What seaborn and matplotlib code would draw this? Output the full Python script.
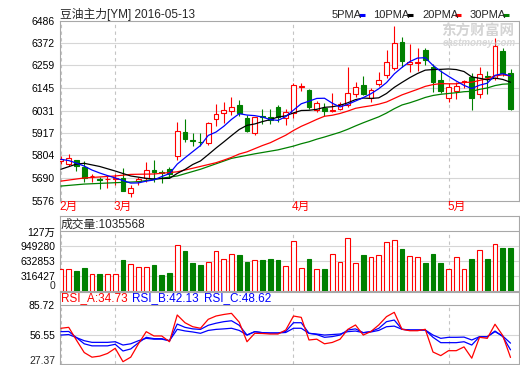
import matplotlib
matplotlib.use("Agg")
import matplotlib.pyplot as plt
from matplotlib.lines import Line2D
import numpy as np
import pandas as pd
import seaborn as sns

# ---------------- data ----------------
opens  = [5775, 5760, 5779, 5747, 5698, 5683, 5683, 5686, 5688, 5615,
          5676, 5688, 5730, 5718, 5736, 5801, 5924, 5882, 5874, 5865,
          5986, 6017, 6030, 6059, 5991, 5916, 6002, 5998, 6047, 5991,
          6017, 6152, 6135, 6033, 6045, 6031, 6039, 6059, 6113, 6160,
          6096, 6163, 6210, 6247, 6376, 6265, 6271, 6337, 6252, 6185,
          6093, 6130, 6175, 6202, 6113, 6204, 6197, 6332, 6219]
highs  = [5800, 5811, 5782, 5776, 5710, 5693, 5705, 5710, 5739, 5654,
          5696, 5772, 5781, 5730, 5747, 5974, 5986, 5916, 5916, 5974,
          6064, 6075, 6101, 6084, 6008, 6000, 6037, 6037, 6057, 6040,
          6168, 6168, 6140, 6079, 6067, 6118, 6075, 6252, 6177, 6205,
          6146, 6227, 6337, 6458, 6404, 6366, 6345, 6345, 6264, 6236,
          6168, 6177, 6185, 6219, 6252, 6231, 6399, 6348, 6241]
lows   = [5760, 5750, 5725, 5671, 5668, 5633, 5638, 5654, 5622, 5592,
          5654, 5671, 5671, 5663, 5688, 5781, 5873, 5852, 5852, 5857,
          5954, 5966, 6008, 6003, 5924, 5907, 5963, 5963, 5974, 5960,
          5991, 6130, 6040, 6025, 6005, 6025, 6033, 6050, 6101, 6109,
          6072, 6156, 6194, 6236, 6252, 6227, 6231, 6261, 6123, 6118,
          6075, 6089, 6143, 6033, 6096, 6113, 6185, 6207, 6033]
closes = [5785, 5789, 5750, 5691, 5702, 5679, 5687, 5690, 5626, 5638,
          5684, 5730, 5720, 5714, 5710, 5927, 5887, 5876, 5870, 5966,
          6012, 6033, 6047, 6017, 5929, 5997, 5998, 5985, 5997, 6025,
          6160, 6157, 6050, 6067, 6030, 6035, 6062, 6118, 6151, 6114,
          6135, 6185, 6275, 6371, 6281, 6278, 6275, 6286, 6177, 6130,
          6151, 6155, 6179, 6096, 6214, 6200, 6357, 6219, 6039]
volumes = [464000, 464000, 421000, 485000, 357000, 357000, 357000, 357000, 656000, 571000,
           500000, 500000, 549000, 336000, 385000, 977000, 849000, 599000, 549000, 614000,
           849000, 671000, 785000, 763000, 620000, 650000, 656000, 678000, 656000, 528000,
           1063000, 479000, 678000, 464000, 464000, 785000, 620000, 1120000, 599000, 763000,
           714000, 763000, 1035000, 1084000, 892000, 742000, 714000, 599000, 785000, 599000,
           457000, 714000, 457000, 671000, 870000, 671000, 998000, 906000, 906000]

ma5_x  = list(range(59))
ma5_y  = [5784, 5778, 5765, 5750, 5730, 5715, 5702, 5690, 5677, 5664,
          5665, 5674, 5680, 5697, 5712, 5760, 5792, 5823, 5854, 5905,
          5922, 5951, 5986, 6015, 6008, 6005, 5998, 5985, 5981, 6000,
          6033, 6065, 6078, 6092, 6093, 6068, 6049, 6062, 6079, 6096,
          6116, 6141, 6172, 6216, 6249, 6278, 6296, 6298, 6259, 6229,
          6204, 6180, 6158, 6142, 6159, 6169, 6209, 6217, 6206]
ma10_x = [0, 2, 3, 5, 7, 9] + list(range(10, 59))
ma10_y = [5734, 5760, 5764, 5748, 5725, 5700,
          5694, 5688, 5685, 5687, 5688, 5713, 5733, 5758, 5776, 5808,
          5841, 5872, 5904, 5935, 5956, 5963, 5975, 5985, 5998, 6004,
          6019, 6031, 6032, 6037, 6047, 6050, 6057, 6070, 6086, 6094,
          6092, 6095, 6117, 6148, 6173, 6197, 6218, 6235, 6238, 6239,
          6241, 6238, 6228, 6201, 6194, 6186, 6195, 6188, 6174]
ma20_x = [0, 3, 7, 9, 12, 15, 17] + list(range(20, 59))
ma20_y = [5674, 5690, 5700, 5708, 5710, 5721, 5739,
          5767, 5780, 5794, 5811, 5822, 5838, 5854, 5868, 5887, 5906,
          5930, 5951, 5968, 5986, 6002, 6007, 6016, 6028, 6042, 6049,
          6055, 6063, 6074, 6092, 6110, 6124, 6138, 6153, 6162, 6167,
          6166, 6166, 6173, 6174, 6183, 6192, 6206, 6211, 6206]
ma30_x = [0, 3, 7, 10, 12, 15, 18, 22, 25, 28] + list(range(30, 59))
ma30_y = [5649, 5659, 5666, 5671, 5683, 5700, 5734, 5789, 5812, 5832,
          5851, 5863, 5873, 5886, 5897, 5909, 5921, 5936, 5953, 5969,
          5984, 5999, 6018, 6040, 6059, 6070, 6083, 6097, 6107, 6113,
          6117, 6121, 6126, 6128, 6138, 6145, 6157, 6164, 6166]

rsi_a = [63.1, 64.0, 51.5, 39.5, 35.0, 36.0, 38.6, 43.6, 30.6, 35.0,
         48.0, 59.8, 55.6, 55.6, 50.0, 76.0, 68.5, 64.6, 63.1, 71.8,
         75.0, 76.5, 77.6, 69.0, 50.0, 58.2, 58.0, 57.5, 57.5, 61.4,
         75.0, 73.7, 51.7, 52.5, 48.0, 49.3, 52.4, 62.0, 66.3, 56.5,
         60.0, 66.3, 74.4, 78.6, 62.1, 60.7, 60.7, 62.1, 40.0, 36.5,
         41.3, 41.3, 45.0, 34.0, 54.3, 53.3, 67.0, 56.0, 34.73]
rsi_b = [59.8, 60.0, 54.0, 48.0, 46.0, 46.0, 46.0, 47.5, 41.0, 43.0,
         49.0, 54.3, 53.0, 53.0, 51.0, 67.2, 64.0, 62.5, 62.0, 66.0,
         68.0, 69.5, 70.4, 66.0, 56.5, 59.8, 58.8, 58.5, 58.5, 60.0,
         68.5, 68.5, 58.2, 57.0, 54.3, 55.0, 56.5, 61.4, 62.5, 58.8,
         60.0, 63.0, 69.5, 71.1, 62.1, 61.4, 61.4, 61.4, 54.3, 49.1,
         49.1, 49.1, 50.0, 46.8, 54.9, 54.9, 60.4, 55.0, 42.13]
rsi_c = [56.5, 57.0, 54.0, 51.0, 49.4, 49.4, 49.4, 50.0, 46.8, 48.0,
         51.0, 53.3, 52.5, 52.5, 51.0, 62.1, 60.5, 59.5, 58.2, 61.0,
         62.0, 62.5, 63.1, 61.0, 56.5, 59.8, 58.8, 58.5, 58.5, 59.0,
         63.1, 63.1, 58.2, 57.5, 56.5, 57.0, 57.5, 59.8, 60.4, 58.8,
         59.5, 61.0, 64.6, 65.2, 62.1, 61.4, 61.4, 61.4, 56.5, 53.3,
         54.3, 54.3, 54.5, 51.7, 54.9, 54.9, 59.8, 55.5, 48.62]

price_ticks = [5576, 5690, 5804, 5917, 6031, 6145, 6259, 6372, 6486]
vol_ticks = [316427, 632853, 949280, 1265707]
vol_tick_labels = ["316427", "632853", "949280", "127万"]
rsi_ticks = [56.55, 85.72]
month_idx = [0, 7, 30, 50]
month_labels = ["2月", "3月", "4月", "5月"]
title = "豆油主力[YM] 2016-05-13"
vol_title = "成交量:1035568"
rsi_titles = ["RSI_A:34.73", "RSI_B:42.13", "RSI_C:48.62"]
legend_names = ["5PMA", "10PMA", "20PMA", "30PMA"]

# ---------------- style ----------------
sns.set_style("white")
plt.rcParams['font.family'] = ['Liberation Sans', 'Noto Sans CJK SC', 'DejaVu Sans']

RED, GREEN, BLUE, BLACK = "#ff0000", "#008000", "#0000ff", "#000000"
SPINE, GRID, DASH = "#a8a8a8", "#d6d6d6", "#c4c4c4"
W, H = 520, 365
fig = plt.figure(figsize=(5.2, 3.65), dpi=100)
fig.patch.set_facecolor("white")


def rect(l, t, r, b):
    return [l / W, 1 - b / H, (r - l) / W, (b - t) / H]


def px(x, y):
    return x / W, 1 - y / H


ax = fig.add_axes(rect(59.5, 20.5, 518.5, 200.5))
axv = fig.add_axes(rect(59.5, 215.7, 518.5, 290.7))
axr = fig.add_axes(rect(59.5, 291.7, 518.5, 363.5))

idx = np.arange(len(closes))
o, h, l, c = map(np.array, (opens, highs, lows, closes))
up = c >= o
XL = (-0.19, 59.03)

for a in (ax, axv, axr):
    a.set_xlim(*XL)
    a.set_xticks([])
    for s in a.spines.values():
        s.set_color(SPINE)
        s.set_linewidth(0.8)
    a.tick_params(axis='y', length=0, pad=3.2, labelsize=7.5, colors="black")
    a.set_facecolor("white")

# ---- main price panel ----
ax.set_ylim(5576, 6486)
ax.set_yticks(price_ticks)
ax.set_yticklabels([str(t) for t in price_ticks])
for t in price_ticks[1:-1]:
    ax.axhline(t, color=GRID, lw=0.8, zorder=0)
for m in month_idx:
    ax.axvline(m, color=DASH, lw=0.8, ls=(0, (3, 3)), zorder=0)

# watermark
fig.text(*px(441, 32), "东方财富网", fontsize=10.5, color="#d4d4d4",
         fontweight="bold", va="center", ha="left", zorder=1)
fig.text(*px(443, 43), "eastmoney.com", fontsize=7, color="#d8d8d8",
         style="italic", fontweight="bold", va="center", ha="left", zorder=1)

wick_col = np.where(up, RED, GREEN)
ax.vlines(idx, l, h, colors=wick_col, lw=0.8, zorder=2)
body_bottom = np.minimum(o, c)
body_h = np.maximum(np.abs(c - o), 1.5)
ax.bar(idx, body_h, bottom=body_bottom, width=0.62,
       color=np.where(up, "white", GREEN), edgecolor=wick_col,
       linewidth=0.8, zorder=3)

for xs, ys, col in ((ma30_x, ma30_y, GREEN), (ma20_x, ma20_y, RED),
                    (ma10_x, ma10_y, BLACK), (ma5_x, ma5_y, BLUE)):
    sns.lineplot(x=xs, y=ys, ax=ax, color=col, lw=0.9, estimator=None,
                 sort=False, legend=False, zorder=4)
ax.set_xlabel("")
ax.set_ylabel("")
ax.set_xlim(*XL)
ax.set_ylim(5576, 6486)

# title + legend
fig.text(*px(60.5, 14), title, fontsize=8.5, va="center", ha="left")
leg_text_x = [331.5, 373, 422, 470]
leg_line_x = [359, 407, 455, 503]
for name, tx, lx, col in zip(legend_names, leg_text_x, leg_line_x,
                             [BLUE, BLACK, RED, GREEN]):
    fig.text(*px(tx, 14.5), name, fontsize=8, va="center", ha="left")
    fig.add_artist(Line2D([lx / W, (lx + 6) / W], [1 - 14.5 / H] * 2,
                          color=col, lw=2.2, solid_capstyle="butt"))

# month labels
for m, lab in zip(month_idx, month_labels):
    fig.text(*px(59.5 + m * 7.75, 207), lab, fontsize=8.5, color=RED,
             va="center", ha="left")

# ---- volume panel ----
vtop = 1603500
axv.set_ylim(0, vtop)
axv.set_yticks(vol_ticks)
axv.set_yticklabels(vol_tick_labels)
for t in vol_ticks[:-1]:
    axv.axhline(t, color=GRID, lw=0.8, zorder=0)
axv.axhline(vol_ticks[-1], color=SPINE, lw=0.8, zorder=0)
axv.vlines(month_idx, 0, vol_ticks[-1], colors=DASH, lw=0.8,
           linestyles=(0, (3, 3)), zorder=0)
axv.bar(idx, volumes, width=0.62, color=np.where(up, "white", GREEN),
        edgecolor=wick_col, linewidth=0.8, zorder=3)
fig.text(*px(55.5, 291), "0", fontsize=7.5, va="bottom", ha="right")
fig.text(*px(60.5, 224.5), vol_title, fontsize=8.5, va="center", ha="left")

# ---- RSI panel ----
axr.set_ylim(28.84, 98.65)
axr.set_yticks(rsi_ticks)
axr.set_yticklabels(["56.55", "85.72"])
axr.axhline(56.55, color=GRID, lw=0.8, zorder=0)
axr.axhline(85.72, color=SPINE, lw=0.8, zorder=0)
axr.vlines(month_idx, 28.84, 85.72, colors=DASH, lw=0.8,
           linestyles=(0, (3, 3)), zorder=0)
for ys, col in ((rsi_c, BLUE), (rsi_b, BLUE), (rsi_a, RED)):
    sns.lineplot(x=idx, y=ys, ax=axr, color=col, lw=0.9, estimator=None,
                 sort=False, legend=False, zorder=3)
axr.set_xlabel("")
axr.set_ylabel("")
axr.set_xlim(*XL)
axr.set_ylim(28.84, 98.65)
fig.text(*px(55.5, 360.5), "27.37", fontsize=7.5, va="center", ha="right")
for txt, xx, col in zip(rsi_titles, [60.5, 132, 204], [RED, BLUE, BLUE]):
    fig.text(*px(xx, 298.5), txt, fontsize=8.5, color=col, va="center", ha="left")

fig.savefig("out.png", dpi=100, facecolor="white")
